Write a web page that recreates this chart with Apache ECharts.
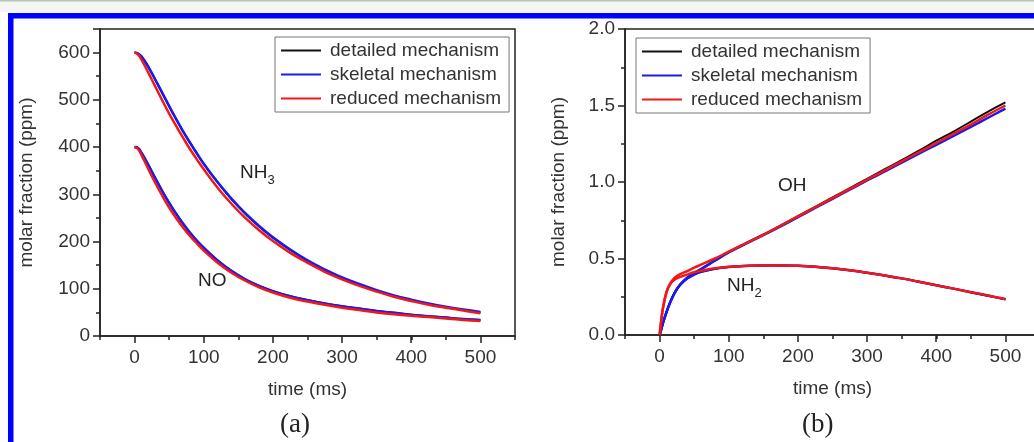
<!DOCTYPE html>
<html>
<head>
<meta charset="utf-8">
<script src="https://cdn.jsdelivr.net/npm/echarts@6/dist/echarts.min.js"></script>
<style>
  html, body { margin: 0; padding: 0; background: #fff; }
  #chart { width: 1034px; height: 442px; }
</style>
</head>
<body>
<div id="chart"></div>
<script>
// panel (a): NH3 and NO, ppm
var timeA = [0, 5, 10, 20, 30, 40, 50, 60, 70, 80, 90, 100, 120, 140, 160, 180, 200, 225, 250, 275, 300, 325, 350, 375, 400, 425, 450, 475, 500];
var nh3Detailed = [600, 598, 591, 569, 542, 514, 486, 459, 433, 409, 386, 364, 325, 290, 259, 232, 208, 182, 159, 140, 123, 109, 96, 85, 76, 68, 61, 55, 50];
var nh3Skeletal = [600, 598, 592, 570, 543, 515, 487, 460, 434, 410, 387, 365, 326, 291, 260, 233, 209, 183, 160, 141, 124, 110, 97, 86, 77, 69, 62, 56, 51];
var nh3Reduced  = [600, 596, 585, 557, 528, 499, 471, 445, 420, 396, 374, 353, 314, 280, 250, 224, 201, 176, 155, 136, 120, 106, 94, 83, 74, 66, 60, 54, 48];
var noDetailed  = [400, 398, 388, 362, 334, 307, 282, 259, 238, 219, 202, 187, 160, 138, 120, 106, 95, 84, 76, 69, 63, 58, 53, 49, 45, 42, 39, 36, 34];
var noSkeletal  = [400, 398, 388, 362, 334, 307, 282, 259, 238, 219, 202, 187, 160, 138, 120, 106, 95, 84, 76, 69, 63, 58, 53, 49, 45, 42, 39, 36, 34];
var noReduced   = [400, 396, 383, 353, 324, 297, 272, 250, 230, 212, 196, 181, 155, 134, 117, 103, 92, 81, 73, 66, 60, 55, 50, 46, 43, 40, 37, 34, 32];

// panel (b): OH and NH2, ppm
var timeB = [0, 2, 5, 10, 15, 20, 25, 30, 40, 50, 60, 80, 100, 125, 150, 175, 200, 225, 250, 275, 300, 325, 350, 375, 400, 425, 450, 475, 500];
var ohDetailed  = [0, 0.03, 0.08, 0.15, 0.21, 0.26, 0.30, 0.33, 0.376, 0.407, 0.432, 0.488, 0.543, 0.601, 0.657, 0.716, 0.777, 0.838, 0.899, 0.96, 1.021, 1.082, 1.143, 1.205, 1.27, 1.33, 1.395, 1.46, 1.52];
var ohSkeletal  = [0, 0.03, 0.08, 0.15, 0.21, 0.26, 0.30, 0.33, 0.375, 0.405, 0.43, 0.485, 0.54, 0.597, 0.652, 0.71, 0.77, 0.83, 0.89, 0.95, 1.01, 1.068, 1.126, 1.185, 1.243, 1.302, 1.36, 1.42, 1.48];
var ohReduced   = [0, 0.08, 0.18, 0.28, 0.335, 0.365, 0.385, 0.398, 0.418, 0.44, 0.46, 0.50, 0.545, 0.60, 0.655, 0.715, 0.775, 0.835, 0.895, 0.955, 1.015, 1.075, 1.135, 1.195, 1.255, 1.315, 1.375, 1.44, 1.50];
var nh2Detailed = [0, 0.03, 0.08, 0.15, 0.21, 0.26, 0.30, 0.33, 0.37, 0.395, 0.413, 0.433, 0.444, 0.451, 0.455, 0.455, 0.452, 0.446, 0.436, 0.423, 0.407, 0.389, 0.37, 0.348, 0.325, 0.303, 0.28, 0.257, 0.233];
var nh2Skeletal = [0, 0.03, 0.08, 0.15, 0.21, 0.26, 0.30, 0.33, 0.37, 0.395, 0.413, 0.433, 0.444, 0.451, 0.455, 0.455, 0.452, 0.446, 0.436, 0.423, 0.407, 0.389, 0.37, 0.348, 0.325, 0.303, 0.28, 0.257, 0.233];
var nh2Reduced  = [0, 0.08, 0.18, 0.28, 0.33, 0.355, 0.37, 0.38, 0.395, 0.41, 0.42, 0.436, 0.446, 0.452, 0.455, 0.455, 0.452, 0.446, 0.436, 0.423, 0.407, 0.389, 0.37, 0.348, 0.325, 0.303, 0.28, 0.258, 0.235];

var mechanisms = ['detailed mechanism', 'skeletal mechanism', 'reduced mechanism'];
var mechColors = ['#111111', '#1a1aee', '#f01818'];

var FONT = '"Liberation Sans", Arial, sans-serif';
var AXIS_COLOR = '#222';

var chart = echarts.init(document.getElementById('chart'));

function pairs(t, v) {
  return t.map(function (x, i) { return [x, v[i]]; });
}

function line(mi, axisIdx, t, v) {
  return {
    name: mechanisms[mi],
    type: 'line',
    xAxisIndex: axisIdx,
    yAxisIndex: axisIdx,
    data: pairs(t, v),
    showSymbol: false,
    smooth: 0.4,
    color: mechColors[mi],
    lineStyle: { color: mechColors[mi], width: mi === 0 ? 2 : 2.5 },
    z: 2 + mi
  };
}

// minor x axis covering the whole frame (-50..550), ticks every 50
function minorX(grid) {
  return {
    gridIndex: grid, type: 'value', min: -50, max: 550, interval: 50,
    axisLine: { show: true, onZero: false, lineStyle: { color: AXIS_COLOR, width: 1.5 } },
    axisTick: { show: true, length: 4, lineStyle: { color: AXIS_COLOR, width: 1.5 } },
    axisLabel: { show: false },
    splitLine: { show: false },
    name: 'time (ms)', nameLocation: 'middle', nameGap: 44,
    nameTextStyle: { fontSize: 19, color: '#333', fontFamily: FONT }
  };
}

// major x axis 0..500 on an overlay grid lined up with the minor one
function majorX(grid) {
  return {
    gridIndex: grid, type: 'value', min: 0, max: 500, interval: 100,
    axisLine: { show: false },
    axisTick: { show: true, length: 7, lineStyle: { color: AXIS_COLOR, width: 1.5 } },
    axisLabel: { show: true, fontSize: 19, color: '#333', fontFamily: FONT, margin: 12 },
    splitLine: { show: false }
  };
}

var option = {
  backgroundColor: '#fff',
  animation: false,
  grid: [
    { left: 100, top: 29, width: 415, height: 307, show: true, borderColor: AXIS_COLOR, borderWidth: 1.5, outerBoundsMode: 'none' },
    { left: 134.58, top: 29, width: 345.83, height: 307, outerBoundsMode: 'none' },
    { left: 625, top: 29, width: 415, height: 306, show: true, borderColor: AXIS_COLOR, borderWidth: 1.5, outerBoundsMode: 'none' },
    { left: 659.58, top: 29, width: 345.83, height: 306, outerBoundsMode: 'none' }
  ],
  xAxis: [minorX(0), majorX(1), minorX(2), majorX(3)],
  yAxis: [
    {
      gridIndex: 0, type: 'value', min: 0, max: 650, interval: 100,
      axisLine: { show: true, onZero: false, lineStyle: { color: AXIS_COLOR, width: 1.5 } },
      axisTick: { show: true, length: 7, lineStyle: { color: AXIS_COLOR, width: 1.5 } },
      minorTick: { show: true, splitNumber: 2, length: 4, lineStyle: { color: AXIS_COLOR, width: 1.5 } },
      axisLabel: { fontSize: 19, color: '#333', fontFamily: FONT, margin: 10, showMaxLabel: false },
      splitLine: { show: false },
      name: 'molar fraction (ppm)', nameLocation: 'middle', nameGap: 64,
      nameTextStyle: { fontSize: 19, color: '#333', fontFamily: FONT }
    },
    { gridIndex: 1, type: 'value', min: 0, max: 650, show: false },
    {
      gridIndex: 2, type: 'value', min: 0, max: 2, interval: 0.5,
      axisLine: { show: true, onZero: false, lineStyle: { color: AXIS_COLOR, width: 1.5 } },
      axisTick: { show: true, length: 7, lineStyle: { color: AXIS_COLOR, width: 1.5 } },
      minorTick: { show: true, splitNumber: 2, length: 4, lineStyle: { color: AXIS_COLOR, width: 1.5 } },
      axisLabel: { fontSize: 19, color: '#333', fontFamily: FONT, margin: 10,
        formatter: function (v) { return v.toFixed(1); } },
      splitLine: { show: false },
      name: 'molar fraction (ppm)', nameLocation: 'middle', nameGap: 57,
      nameTextStyle: { fontSize: 19, color: '#333', fontFamily: FONT }
    },
    { gridIndex: 3, type: 'value', min: 0, max: 2, show: false }
  ],
  legend: [
    {
      data: mechanisms, orient: 'vertical', left: 275, top: 37,
      icon: 'rect', itemWidth: 40, itemHeight: 2, itemGap: 5,
      padding: [4, 8, 4, 6], backgroundColor: '#fff', borderColor: '#777', borderWidth: 1,
      textStyle: { fontSize: 19, lineHeight: 19, color: '#333', fontFamily: FONT, padding: [0, 0, 0, 4] },
      selectedMode: false
    },
    {
      data: mechanisms, orient: 'vertical', left: 636, top: 38,
      icon: 'rect', itemWidth: 40, itemHeight: 2, itemGap: 5,
      padding: [4, 8, 4, 6], backgroundColor: '#fff', borderColor: '#777', borderWidth: 1,
      textStyle: { fontSize: 19, lineHeight: 19, color: '#333', fontFamily: FONT, padding: [0, 0, 0, 4] },
      selectedMode: false
    }
  ],
  series: [
    line(0, 0, timeA, nh3Detailed), line(0, 0, timeA, noDetailed),
    line(1, 0, timeA, nh3Skeletal), line(1, 0, timeA, noSkeletal),
    line(2, 0, timeA, nh3Reduced), line(2, 0, timeA, noReduced),
    line(0, 2, timeB, ohDetailed), line(0, 2, timeB, nh2Detailed),
    line(1, 2, timeB, ohSkeletal), line(1, 2, timeB, nh2Skeletal),
    line(2, 2, timeB, ohReduced), line(2, 2, timeB, nh2Reduced)
  ],
  graphic: [
    // page chrome: light strip and blue frame
    { type: 'rect', shape: { x: 0, y: 0, width: 1034, height: 12 }, style: { fill: '#f3f6f3' }, silent: true },
    { type: 'rect', shape: { x: 0, y: 0, width: 1034, height: 1.5 }, style: { fill: '#b7c6b7' }, silent: true },
    { type: 'rect', shape: { x: 8, y: 13, width: 1026, height: 5.5 }, style: { fill: '#0000ff' }, silent: true },
    { type: 'rect', shape: { x: 8, y: 13, width: 5.5, height: 429 }, style: { fill: '#0000ff' }, silent: true },
    // species labels
    { type: 'text', left: 240, top: 163, silent: true,
      style: { text: '{m|NH}{s|3}', rich: {
        m: { fontSize: 19, fontFamily: FONT, fill: '#222', lineHeight: 28, verticalAlign: 'middle' },
        s: { fontSize: 13, fontFamily: FONT, fill: '#222', lineHeight: 28, verticalAlign: 'bottom' } } } },
    { type: 'text', left: 198, top: 271, silent: true,
      style: { text: 'NO', fontSize: 19, fontFamily: FONT, fill: '#222' } },
    { type: 'text', left: 778, top: 176, silent: true,
      style: { text: 'OH', fontSize: 19, fontFamily: FONT, fill: '#222' } },
    { type: 'text', left: 727, top: 276, silent: true,
      style: { text: '{m|NH}{s|2}', rich: {
        m: { fontSize: 19, fontFamily: FONT, fill: '#222', lineHeight: 28, verticalAlign: 'middle' },
        s: { fontSize: 13, fontFamily: FONT, fill: '#222', lineHeight: 28, verticalAlign: 'bottom' } } } },
    // panel captions
    { type: 'text', left: 280, top: 411, silent: true,
      style: { text: '(a)', fontSize: 27, fontFamily: '"Liberation Serif", "Times New Roman", serif', fill: '#222' } },
    { type: 'text', left: 802, top: 411, silent: true,
      style: { text: '(b)', fontSize: 27, fontFamily: '"Liberation Serif", "Times New Roman", serif', fill: '#222' } }
  ]
};

chart.setOption(option);
</script>
</body>
</html>
